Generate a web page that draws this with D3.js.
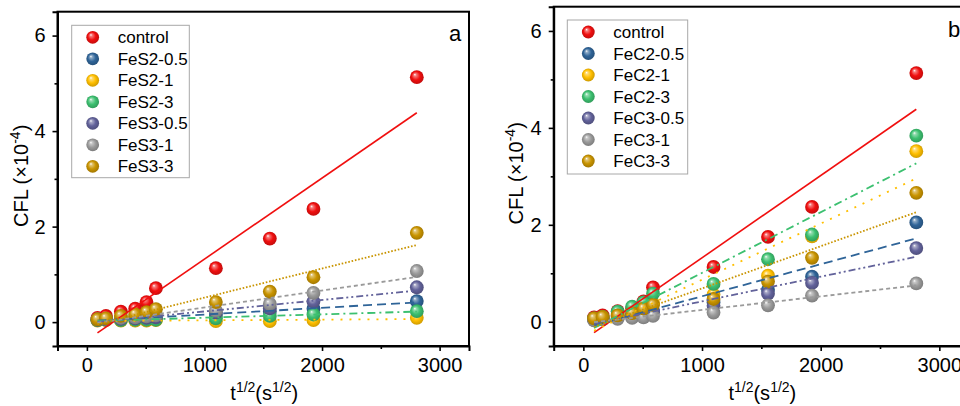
<!DOCTYPE html>
<html>
<head>
<meta charset="utf-8">
<script src="https://cdn.jsdelivr.net/npm/d3@7"></script>
<style>
  html, body { margin: 0; padding: 0; background: #fff; }
  svg { display: block; font-family: "Liberation Sans", Arial, sans-serif; }
</style>
</head>
<body>
<svg id="chart" width="960" height="406"></svg>
<script>
// Square root of time, s^(1/2)
const sqrtTime = [90, 162, 289, 411, 507, 587, 1097, 1556, 1927, 2806];

// CFL values (×10^-4)
const control = [0.09, 0.13, 0.22, 0.28, 0.42, 0.71, 1.13, 1.75, 2.37, 5.13];

// Panel a: FeS series
const fes2_05 = [0.05, 0.06, 0.07, 0.07, 0.08, 0.09, 0.15, 0.22, 0.28, 0.44];
const fes2_1  = [0.03, 0.04, 0.03, 0.03, 0.03, 0.04, 0.02, 0.02, 0.04, 0.09];
const fes2_3  = [0.04, 0.05, 0.04, 0.05, 0.05, 0.05, 0.08, 0.13, 0.16, 0.23];
const fes3_05 = [0.05, 0.06, 0.07, 0.08, 0.09, 0.10, 0.20, 0.29, 0.43, 0.73];
const fes3_1  = [0.06, 0.07, 0.09, 0.10, 0.12, 0.14, 0.24, 0.38, 0.61, 1.07];
const fes3_3  = [0.06, 0.08, 0.13, 0.16, 0.21, 0.27, 0.42, 0.64, 0.94, 1.87];

// Panel b: FeC series
const fec2_05 = [0.05, 0.07, 0.12, 0.16, 0.20, 0.24, 0.40, 0.66, 0.93, 2.05];
const fec2_1  = [0.06, 0.09, 0.16, 0.24, 0.30, 0.38, 0.56, 0.95, 1.76, 3.52];
const fec2_3  = [0.07, 0.10, 0.21, 0.31, 0.40, 0.58, 0.78, 1.29, 1.80, 3.84];
const fec3_05 = [0.04, 0.06, 0.10, 0.13, 0.16, 0.20, 0.33, 0.58, 0.80, 1.52];
const fec3_1  = [0.03, 0.05, 0.06, 0.08, 0.09, 0.12, 0.19, 0.34, 0.54, 0.79];
const fec3_3  = [0.07, 0.10, 0.13, 0.18, 0.27, 0.35, 0.47, 0.83, 1.32, 2.66];

const namesA = ["control", "FeS2-0.5", "FeS2-1", "FeS2-3", "FeS3-0.5", "FeS3-1", "FeS3-3"];
const namesB = ["control", "FeC2-0.5", "FeC2-1", "FeC2-3", "FeC3-0.5", "FeC3-1", "FeC3-3"];

const xTicks = [0, 1000, 2000, 3000];
const xMinor = [500, 1500, 2500];
const yTicks = [0, 2, 4, 6];
const yMinor = [1, 3, 5];

// Styles shared by both panels, in series order
const colors = ["#f00f0f", "#2f6498", "#ffbf00", "#3cc070", "#62629a", "#9a9a9a", "#c99400"];
const dashes = [null, "9,5", "2,7", "8,4,2,4", "7,3,2,3,2,3", "4,3", "1.6,1.8"];

const svg = d3.select("#chart");
const defs = svg.append("defs");
colors.forEach((c, i) => {
  const g = defs.append("radialGradient").attr("id", "ball" + i)
    .attr("cx", "50%").attr("cy", "50%").attr("r", "55%")
    .attr("fx", "35%").attr("fy", "30%");
  const base = d3.color(c);
  g.append("stop").attr("offset", "0%").attr("stop-color", "#ffffff");
  g.append("stop").attr("offset", "18%").attr("stop-color", d3.interpolateRgb(c, "#fff")(0.45));
  g.append("stop").attr("offset", "55%").attr("stop-color", c);
  g.append("stop").attr("offset", "100%").attr("stop-color", base.darker(0.7).formatHex());
});

function linFit(xs, ys) {
  const n = xs.length;
  const mx = d3.mean(xs), my = d3.mean(ys);
  let sxy = 0, sxx = 0;
  for (let i = 0; i < n; i++) { sxy += (xs[i] - mx) * (ys[i] - my); sxx += (xs[i] - mx) ** 2; }
  const b = sxy / sxx;
  return { b, a: my - b * mx };
}

function drawPanel(cfg) {
  const { left, right, top, bottom, series, names, label, legend } = cfg;
  const g = svg.append("g");
  const x = d3.scaleLinear().domain([-250, 3250]).range([left, right]);
  const y = d3.scaleLinear().domain([-0.5, 6.5]).range([bottom, top]);

  // frame
  g.append("rect").attr("x", left).attr("y", top)
    .attr("width", right - left).attr("height", bottom - top)
    .attr("fill", "none").attr("stroke", "#000").attr("stroke-width", 2);

  const font = "20px";
  const ax = g.append("g").attr("transform", `translate(0,${bottom})`)
    .call(d3.axisBottom(x).tickValues(xTicks).tickSize(5).tickPadding(7).tickFormat(d3.format("d")));
  ax.select(".domain").attr("stroke-width", 2);
  ax.selectAll(".tick line").attr("stroke-width", 1.6);
  ax.selectAll("text").attr("font-size", font).attr("font-family", "Liberation Sans, Arial").attr("fill", "#000");
  const axm = g.append("g").attr("transform", `translate(0,${bottom})`)
    .call(d3.axisBottom(x).tickValues(xMinor).tickSize(3).tickFormat(""));
  axm.select(".domain").remove();
  axm.selectAll(".tick line").attr("stroke-width", 1.6);

  const ay = g.append("g").attr("transform", `translate(${left},0)`)
    .call(d3.axisLeft(y).tickValues(yTicks).tickSize(5).tickPadding(7).tickFormat(d3.format("d")));
  ay.select(".domain").attr("stroke-width", 2);
  ay.selectAll(".tick line").attr("stroke-width", 1.6);
  ay.selectAll("text").attr("font-size", font).attr("font-family", "Liberation Sans, Arial").attr("fill", "#000");
  const aym = g.append("g").attr("transform", `translate(${left},0)`)
    .call(d3.axisLeft(y).tickValues(yMinor).tickSize(3).tickFormat(""));
  aym.select(".domain").remove();
  aym.selectAll(".tick line").attr("stroke-width", 1.6);

  // points
  series.forEach((vals, si) => {
    g.append("g").selectAll("circle").data(vals).join("circle")
      .attr("cx", (d, i) => x(sqrtTime[i])).attr("cy", d => y(d))
      .attr("r", 6.9).attr("fill", `url(#ball${si})`);
  });

  // linear fits
  series.forEach((vals, si) => {
    const f = linFit(sqrtTime, vals);
    const x0 = sqrtTime[0], x1 = sqrtTime[sqrtTime.length - 1];
    g.append("line")
      .attr("x1", x(x0)).attr("y1", y(f.a + f.b * x0))
      .attr("x2", x(x1)).attr("y2", y(f.a + f.b * x1))
      .attr("stroke", colors[si]).attr("stroke-width", si === 0 ? 1.6 : 1.8)
      .attr("stroke-dasharray", dashes[si]);
  });

  // legend
  const lg = g.append("g");
  lg.append("rect").attr("x", legend.x).attr("y", legend.y)
    .attr("width", legend.w).attr("height", legend.h)
    .attr("fill", "#fff").attr("stroke", "#a8a8a8").attr("stroke-width", 1);
  names.forEach((n, i) => {
    const cy = legend.y + 12 + i * 21.5;
    lg.append("circle").attr("cx", legend.x + 21).attr("cy", cy).attr("r", 6.4)
      .attr("fill", `url(#ball${i})`);
    lg.append("text").attr("x", legend.x + 46).attr("y", cy + 6)
      .attr("font-size", "17px").text(n);
  });

  // panel label
  g.append("text").attr("x", label.x).attr("y", label.y)
    .attr("font-size", "22px").text(label.t);

  // axis titles
  const xt = g.append("text").attr("x", (left + Math.min(right, 969)) / 2 + 1).attr("y", 400)
    .attr("text-anchor", "middle").attr("font-size", "20px");
  xt.append("tspan").text("t");
  xt.append("tspan").attr("dy", -8).attr("font-size", "14px").text("1/2");
  xt.append("tspan").attr("dy", 8).text("(s");
  xt.append("tspan").attr("dy", -8).attr("font-size", "14px").text("1/2");
  xt.append("tspan").attr("dy", 8).text(")");

  const yt = g.append("text")
    .attr("transform", `translate(${cfg.ytx},${(top + bottom) / 2 - 3}) rotate(-90)`)
    .attr("text-anchor", "middle").attr("font-size", "20px");
  yt.append("tspan").text("CFL (×10");
  yt.append("tspan").attr("dy", -8).attr("font-size", "14px").text("-4");
  yt.append("tspan").attr("dy", 8).text(")");
}

drawPanel({
  left: 57.5, right: 469, top: 11.7, bottom: 346, ytx: 28,
  series: [control, fes2_05, fes2_1, fes2_3, fes3_05, fes3_1, fes3_3],
  names: namesA,
  legend: { x: 71.7, y: 25.3, w: 117.6, h: 152.4 },
  label: { x: 449, y: 41, t: "a" }
});

drawPanel({
  left: 553.7, right: 969, top: 6.7, bottom: 346, ytx: 523,
  series: [control, fec2_05, fec2_1, fec2_3, fec3_05, fec3_1, fec3_3],
  names: namesB,
  legend: { x: 567.3, y: 20, w: 120.4, h: 154 },
  label: { x: 948, y: 37, t: "b" }
});
</script>
</body>
</html>
